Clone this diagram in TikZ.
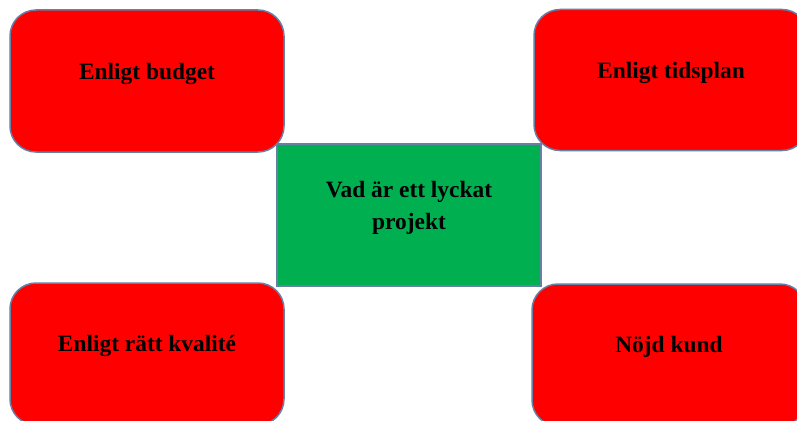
\documentclass[tikz,border=0pt]{standalone}
\usepackage{fontspec}
\setmainfont{Liberation Serif}
\usetikzlibrary{calc}
\definecolor{boxred}{HTML}{FF0000}
\definecolor{boxgreen}{HTML}{00B050}
\definecolor{boxline}{HTML}{6581A6}
\tikzset{
  goalbox/.style={draw=boxline, line width=1.5pt, fill=boxred, rounded corners=26pt,
    minimum width=274pt, minimum height=142pt, inner sep=0pt},
  centerbox/.style={draw=boxline, line width=1.2pt, fill=boxgreen,
    minimum width=264pt, minimum height=142pt, inner sep=0pt},
  caption/.style={anchor=base, inner sep=0pt, font=\fontsize{23.4}{32}\selectfont\bfseries,
    align=center, text=black}
}
\begin{document}
\begin{tikzpicture}[x=1pt, y=-1pt]
  \clip (0,0) rectangle (797,420);
  \useasboundingbox (0,0) rectangle (797,420);
  \fill[white] (0,0) rectangle (797,420);

  % the four criteria
  \node[goalbox] (budget) at (147,81) {};
  \node[goalbox, minimum height=141pt] (tid) at (671,80) {};
  \node[goalbox] (kval) at (147,354) {};
  \node[goalbox] (kund) at (669,355) {};

  % central question
  \node[centerbox] (fraga) at (409,215) {};

  % y grows downwards, so positive offsets move below the top edge
  \node[caption] (tbudget) at ($(budget.north)+(0,70)$) {Enligt budget};
  \node[caption] (ttid) at ($(tid.north)+(0,70)$) {Enligt tidsplan};
  \node[caption] (tkval) at ($(kval.north)+(0,69)$) {Enligt rätt kvalité};
  \node[caption] (tkund) at ($(kund.north)+(0,69)$) {Nöjd kund};
  % base of a two-line node is the baseline of its last line
  \node[caption] (tfraga) at ($(fraga.north)+(0,86)$) {Vad är ett lyckat\\projekt};
\end{tikzpicture}
\end{document}
